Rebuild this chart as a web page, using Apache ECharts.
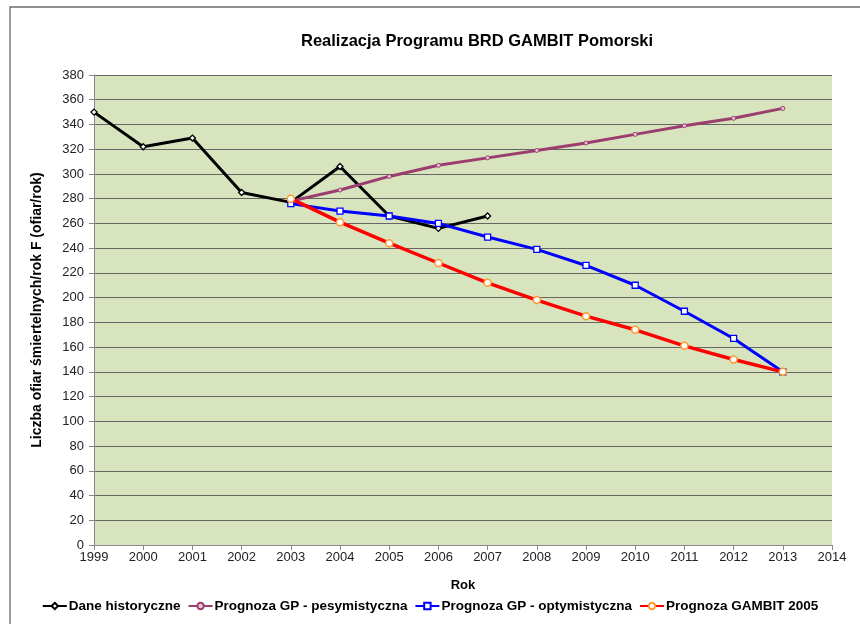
<!DOCTYPE html>
<html>
<head>
<meta charset="utf-8">
<script src="https://cdn.jsdelivr.net/npm/echarts@6/dist/echarts.min.js"></script>
<style>
  html, body { margin: 0; padding: 0; background: #fff; }
  #chart { width: 860px; height: 624px; }
</style>
</head>
<body>
<div id="chart"></div>
<script>
// lata
let histYears = [1999, 2000, 2001, 2002, 2003, 2004, 2005, 2006, 2007]
let histValues = [350, 322, 329, 285, 277, 306, 266, 256, 266]

let progYears = [2003, 2004, 2005, 2006, 2007, 2008, 2009, 2010, 2011, 2012, 2013]
let pesValues = [278, 287, 298, 307, 313, 319, 325, 332, 339, 345, 353]
let optValues = [276, 270, 266, 260, 249, 239, 226, 210, 189, 167, 140]
let gambitValues = [280, 261, 244, 228, 212, 198, 185, 174, 161, 150, 140]

let seriesNames = ['Dane historyczne', 'Prognoza GP - pesymistyczna', 'Prognoza GP - optymistyczna', 'Prognoza GAMBIT 2005']

function pairs(xs, ys) {
    return xs.map((x, i) => [x, ys[i]])
}

let myChart = echarts.init(document.getElementById('chart'))
let font = 'Liberation Sans, Arial, sans-serif'
let option = {
    animation: false,
    textStyle: { fontFamily: font },
    graphic: [
        {
            type: 'rect',
            shape: { x: 10, y: 7, width: 900, height: 700 },
            style: { fill: null, stroke: '#6b6b6b', lineWidth: 1.3 },
            silent: true
        }
    ],
    title: {
        text: 'Realizacja Programu BRD GAMBIT Pomorski',
        left: 296,
        top: 28,
        textStyle: { fontSize: 16.5, fontWeight: 'bold', color: '#000', fontFamily: font }
    },
    legend: {
        bottom: 6,
        left: 'center',
        itemGap: 7,
        itemWidth: 24,
        itemHeight: 8,
        textStyle: { fontSize: 13.5, fontWeight: 'bold', color: '#000', fontFamily: font, padding: [0, 0, 0, -3] },
        data: seriesNames
    },
    grid: {
        left: 94,
        right: 28,
        top: 75,
        bottom: 79,
        show: true,
        backgroundColor: '#D7E4BD',
        borderWidth: 0
    },
    xAxis: {
        type: 'value',
        min: 1999,
        max: 2014,
        interval: 1,
        name: 'Rok',
        nameLocation: 'middle',
        nameGap: 34,
        nameTextStyle: { fontSize: 13, fontWeight: 'bold', color: '#000' },
        axisLine: { show: true, lineStyle: { color: '#888', width: 1 } },
        axisTick: { show: true, length: 5, lineStyle: { color: '#888' } },
        axisLabel: { fontSize: 13, color: '#222', margin: 6, formatter: v => String(v) },
        splitLine: { show: false }
    },
    yAxis: {
        type: 'value',
        min: 0,
        max: 380,
        interval: 20,
        name: 'Liczba ofiar śmiertelnych/rok F (ofiar/rok)',
        nameLocation: 'middle',
        nameRotate: 90,
        nameGap: 50,
        nameTextStyle: { fontSize: 14, fontWeight: 'bold', color: '#000' },
        axisLine: { show: true, lineStyle: { color: '#888', width: 1 } },
        axisTick: { show: true, length: 5, lineStyle: { color: '#888' } },
        axisLabel: { fontSize: 13, color: '#222', margin: 10 },
        splitLine: { show: true, lineStyle: { color: '#666', width: 1 } }
    },
    series: [
        {
            name: seriesNames[0],
            type: 'line',
            data: pairs(histYears, histValues),
            symbol: 'diamond',
            symbolSize: 6,
            lineStyle: { color: '#000', width: 3 },
            itemStyle: { color: '#fff', borderColor: '#000', borderWidth: 1.3 },
            z: 2
        },
        {
            name: seriesNames[1],
            type: 'line',
            data: pairs(progYears, pesValues),
            symbol: 'circle',
            symbolSize: 4,
            lineStyle: { color: '#9B3D6E', width: 3 },
            itemStyle: { color: '#e8c8d8', borderColor: '#9B3D6E', borderWidth: 1 },
            z: 3
        },
        {
            name: seriesNames[2],
            type: 'line',
            data: pairs(progYears, optValues),
            symbol: 'rect',
            symbolSize: 6,
            lineStyle: { color: '#0000FF', width: 3 },
            itemStyle: { color: '#fff', borderColor: '#0000FF', borderWidth: 1.3 },
            z: 4
        },
        {
            name: seriesNames[3],
            type: 'line',
            data: pairs(progYears, gambitValues),
            symbol: 'circle',
            symbolSize: 7,
            lineStyle: { color: '#FF0000', width: 3.5 },
            itemStyle: { color: '#fff', borderColor: '#FF9933', borderWidth: 1.5 },
            z: 5
        }
    ]
}
myChart.setOption(option)
</script>
</body>
</html>
